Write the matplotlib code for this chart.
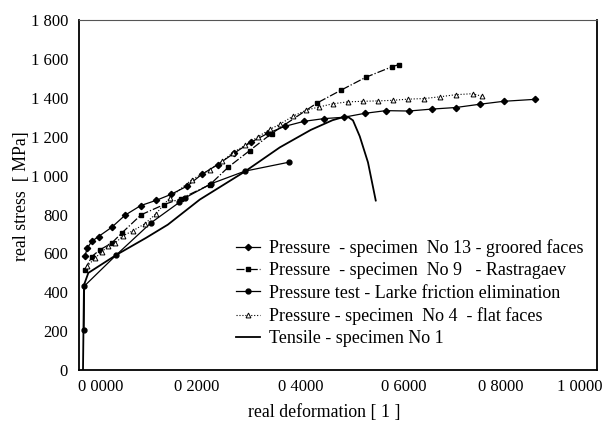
import numpy as np
import matplotlib
matplotlib.use('Agg')
import matplotlib.pyplot as plt
from matplotlib.transforms import ScaledTranslation

plt.rcParams['font.family'] = ['Liberation Serif', 'DejaVu Serif']

# values
no13_x = [0.004, 0.009, 0.018, 0.032, 0.059, 0.087, 0.119, 0.151, 0.181, 0.214, 0.245, 0.278,
          0.311, 0.346, 0.381, 0.416, 0.456, 0.497, 0.538, 0.581, 0.625, 0.672, 0.720, 0.769,
          0.819, 0.868, 0.932]
no13_y = [588, 628, 662, 687, 734, 797, 846, 873, 903, 945, 1006, 1057,
          1114, 1171, 1217, 1253, 1279, 1293, 1300, 1320, 1334, 1332, 1342, 1350,
          1367, 1382, 1392]

no9_x = [0.004, 0.018, 0.035, 0.059, 0.080, 0.120, 0.167, 0.202, 0.262, 0.300, 0.344, 0.389,
         0.482, 0.533, 0.584, 0.637, 0.652]
no9_y = [516, 584, 619, 653, 705, 799, 851, 882, 954, 1044, 1129, 1216,
         1372, 1440, 1506, 1559, 1571]

larke_x = [0.002, 0.003, 0.069, 0.140, 0.199, 0.210, 0.265, 0.334, 0.425]
larke_y = [206, 433, 593, 757, 863, 885, 959, 1023, 1069]

no4_x = [0.008, 0.025, 0.039, 0.052, 0.066, 0.083, 0.103, 0.128, 0.151, 0.179, 0.225, 0.262,
         0.287, 0.309, 0.334, 0.361, 0.386, 0.406, 0.433, 0.460, 0.487, 0.515, 0.546, 0.577,
         0.608, 0.639, 0.670, 0.703, 0.736, 0.769, 0.804, 0.823]
no4_y = [533, 576, 610, 636, 653, 691, 717, 753, 805, 886, 980, 1031,
         1073, 1118, 1155, 1200, 1238, 1264, 1305, 1336, 1353, 1369, 1379, 1382,
         1384, 1387, 1393, 1396, 1405, 1416, 1421, 1408]

tens_x = [0.0, 0.002, 0.011, 0.069, 0.130, 0.175, 0.241, 0.334, 0.406, 0.470, 0.515, 0.536,
          0.546, 0.557, 0.571, 0.588, 0.604]
tens_y = [0, 438, 500, 593, 680, 748, 877, 1021, 1145, 1235, 1285, 1300,
          1303, 1284, 1202, 1068, 872]

x_ticks = [0.0, 0.2, 0.4, 0.6, 0.8, 1.0]
x_labels = ['0 0000', '0 2000', '0 4000', '0 6000', '0 8000', '1 0000']
y_ticks = [0, 200, 400, 600, 800, 1000, 1200, 1400, 1600, 1800]
y_labels = ['0', '200', '400', '600', '800', '1 000', '1 200', '1 400', '1 600', '1 800']

fig = plt.figure(figsize=(6.04, 4.34), dpi=100)
ax = fig.add_axes([0.131, 0.147, 0.857, 0.807])

ax.plot(no13_x, no13_y, '-', color='black', lw=0.9, marker='D', ms=3.2,
        label='Pressure  - specimen  No 13 - groored faces')
ax.plot(no9_x, no9_y, '-.', color='black', lw=0.9, marker='s', ms=3.5,
        label='Pressure  - specimen  No 9   - Rastragaev')
ax.plot(larke_x, larke_y, '-', color='black', lw=0.9, marker='o', ms=3.5,
        label='Pressure test - Larke friction elimination')
ax.plot(no4_x, no4_y, ':', color='black', lw=0.8, marker='^', ms=3.5, mfc='white', mew=0.7,
        label='Pressure - specimen  No 4  - flat faces')
ax.plot(tens_x, tens_y, '-', color='black', lw=1.3, label='Tensile - specimen No 1')

ax.set_xlim(-0.008, 1.06)
ax.set_ylim(0, 1800)
ax.set_xticks(x_ticks)
ax.set_xticklabels(x_labels)
ax.set_yticks(y_ticks)
ax.set_yticklabels(y_labels)
ax.tick_params(length=0, labelsize=12, colors='black')
ax.tick_params(axis='y', pad=8)
ax.tick_params(axis='x', pad=6)
# the scanned labels sit a bit right of the data positions
shifts = [18, 17, 24, 30, 30, 12]
for lbl, dx in zip(ax.get_xticklabels(), shifts):
    lbl.set_transform(lbl.get_transform() + ScaledTranslation(dx / 100, 0, fig.dpi_scale_trans))

for s in ax.spines.values():
    s.set_color('black')
    s.set_linewidth(1.3)
ax.spines['top'].set_linewidth(0.8)
ax.spines['top'].set_color('#555555')

fig.text(22 / 604, 1 - 196 / 434, 'real stress  [ MPa]', fontsize=12.8, rotation=90,
         ha='center', va='center')
fig.text(324 / 604, 1 - 412 / 434, 'real deformation [ 1 ]', fontsize=12.8,
         ha='center', va='center')

ax.legend(loc='upper left', bbox_to_anchor=(0.29, 0.395), frameon=False, fontsize=13,
          handlelength=1.3, handletextpad=0.5, labelspacing=0.3, borderaxespad=0)

fig.savefig('out.png', dpi=100)
